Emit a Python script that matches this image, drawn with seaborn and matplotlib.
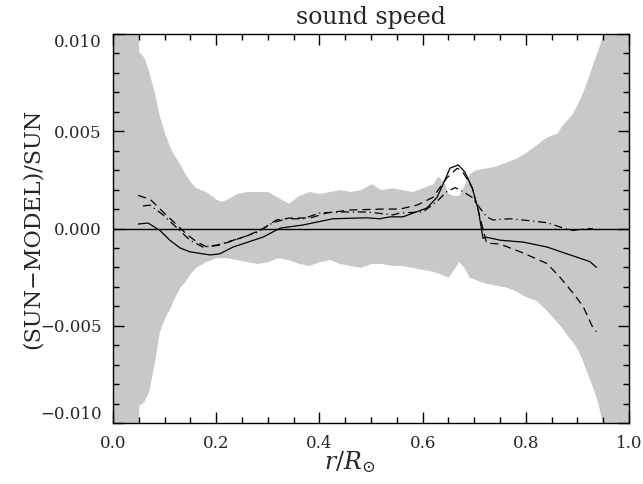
import numpy as np
import pandas as pd
import matplotlib
matplotlib.use("Agg")
import matplotlib.pyplot as plt
import seaborn as sns
from matplotlib.ticker import MultipleLocator

# ---- data ----
band_r = [0.0, 0.047, 0.05, 0.06, 0.07, 0.08, 0.09, 0.10, 0.11, 0.12, 0.13, 0.14, 0.15, 0.16,
          0.18, 0.20, 0.21, 0.22, 0.24, 0.26, 0.28, 0.30, 0.32, 0.34, 0.36, 0.38, 0.40, 0.42,
          0.44, 0.46, 0.48, 0.50, 0.52, 0.54, 0.56, 0.58, 0.60, 0.62, 0.63, 0.64, 0.65, 0.66,
          0.67, 0.68, 0.69, 0.70, 0.72, 0.74, 0.76, 0.78, 0.80, 0.82, 0.84, 0.86, 0.87, 0.88,
          0.89, 0.90, 0.91, 0.92, 0.93, 0.94, 0.95, 0.96, 0.97, 1.0]
band_upper = [0.012, 0.012, 0.0091, 0.0088, 0.0080, 0.0070, 0.0058, 0.0049, 0.0042, 0.0037,
              0.0033, 0.0028, 0.0024, 0.0021, 0.0019, 0.0015, 0.0014, 0.0015, 0.0018, 0.0019,
              0.0019, 0.0019, 0.0016, 0.0013, 0.0017, 0.0019, 0.0018, 0.0019, 0.0020, 0.0019,
              0.0020, 0.0023, 0.0020, 0.0021, 0.0020, 0.0019, 0.0021, 0.0023, 0.0027, 0.0024,
              0.0018, 0.0017, 0.0017, 0.0022, 0.0028, 0.0030, 0.0031, 0.0032, 0.0034, 0.0036,
              0.0039, 0.0043, 0.0047, 0.0049, 0.0053, 0.0056, 0.0059, 0.0064, 0.0070, 0.0077,
              0.0085, 0.0092, 0.0100, 0.0110, 0.0120, 0.0120]
band_lower = [-0.012, -0.012, -0.0091, -0.0089, -0.0083, -0.0069, -0.0053, -0.0046, -0.0041,
              -0.0035, -0.0030, -0.0027, -0.0023, -0.0020, -0.0017, -0.0015, -0.0015, -0.0015,
              -0.0016, -0.0017, -0.0018, -0.0017, -0.0015, -0.0016, -0.0018, -0.0019, -0.0017,
              -0.0016, -0.0018, -0.0019, -0.0020, -0.0018, -0.0018, -0.0019, -0.0019, -0.0020,
              -0.0021, -0.0022, -0.0023, -0.0024, -0.0025, -0.0021, -0.0017, -0.0020, -0.0025,
              -0.0026, -0.0028, -0.0029, -0.0030, -0.0032, -0.0035, -0.0037, -0.0042, -0.0048,
              -0.0051, -0.0055, -0.0058, -0.0062, -0.0068, -0.0075, -0.0082, -0.0090, -0.0102,
              -0.0120, -0.0120, -0.0120]

solid_r = [0.049, 0.068, 0.091, 0.110, 0.130, 0.149, 0.188, 0.207, 0.233, 0.291, 0.324, 0.368,
           0.426, 0.492, 0.517, 0.537, 0.562, 0.608, 0.628, 0.640, 0.653, 0.669, 0.682, 0.696,
           0.708, 0.717, 0.724, 0.750, 0.795, 0.841, 0.886, 0.924, 0.937]
solid_v = [0.00023, 0.00028, -0.0001, -0.0006, -0.0010, -0.0012, -0.00136, -0.0013, -0.00095,
           -0.00044, 0.00002, 0.00018, 0.0005, 0.00055, 0.0005, 0.0006, 0.0006, 0.00105, 0.0016,
           0.0023, 0.0031, 0.00327, 0.0029, 0.0021, 0.00095, -0.0005, -0.00045, -0.0006, -0.0007,
           -0.00095, -0.00136, -0.0017, -0.0020]

dashed_r = [0.049, 0.072, 0.097, 0.124, 0.143, 0.163, 0.182, 0.207, 0.246, 0.285, 0.317, 0.343,
            0.382, 0.414, 0.459, 0.523, 0.556, 0.589, 0.620, 0.647, 0.667, 0.678, 0.696, 0.711,
            0.724, 0.750, 0.795, 0.841, 0.866, 0.891, 0.911, 0.930, 0.937]
dashed_v = [0.0017, 0.0015, 0.00085, 0.00018, -0.0003, -0.0007, -0.00095, -0.00085, -0.0005,
            -0.0001, 0.00044, 0.00054, 0.00054, 0.0008, 0.00095, 0.001, 0.001, 0.0012, 0.0016,
            0.0026, 0.0031, 0.0029, 0.0021, 0.0006, -0.00075, -0.0008, -0.00126, -0.0018,
            -0.0025, -0.0033, -0.0040, -0.0051, -0.0053]

dashdot_r = [0.058, 0.072, 0.097, 0.124, 0.149, 0.174, 0.202, 0.246, 0.279, 0.310, 0.337, 0.368,
             0.401, 0.440, 0.492, 0.543, 0.556, 0.601, 0.628, 0.647, 0.663, 0.678, 0.696, 0.711,
             0.724, 0.736, 0.769, 0.808, 0.841, 0.872, 0.891, 0.911, 0.930]
dashdot_v = [0.00116, 0.0012, 0.0007, 0.00003, -0.0006, -0.00095, -0.00085, -0.0005, -0.0002,
             0.0003, 0.0005, 0.0005, 0.0008, 0.00085, 0.00085, 0.0007, 0.0008, 0.00085, 0.0014,
             0.0019, 0.0021, 0.0019, 0.0016, 0.00105, 0.0006, 0.00044, 0.0005, 0.0004, 0.0003,
             0.00003, -0.0001, -0.00003, 0.0]

x_ticks = [0.0, 0.2, 0.4, 0.6, 0.8, 1.0]
y_ticks = [-0.010, -0.005, 0.000, 0.005, 0.010]
title = "sound speed"
xlabel = r"$r/R_{\odot}$"
ylabel = "(SUN\u2212MODEL)/SUN"

# ---- style ----
sns.set_style("ticks")
plt.rcParams["font.family"] = ["DejaVu Serif"]
plt.rcParams["mathtext.fontset"] = "dejavuserif"
plt.rcParams["axes.unicode_minus"] = True
plt.rcParams["axes.axisbelow"] = False

fig = plt.figure(figsize=(6.43, 4.84), dpi=100)
ax = fig.add_axes([113 / 643, 1 - 423 / 484, 516 / 643, 389 / 484])
ax.set_axisbelow(False)

ax.fill_between(band_r, band_lower, band_upper, color="#c8c8c8", linewidth=0, zorder=1)
ax.axhline(0.0, color="black", linewidth=1.0, zorder=2)

df_s = pd.DataFrame({"r": solid_r, "v": solid_v})
df_d = pd.DataFrame({"r": dashed_r, "v": dashed_v})
df_dd = pd.DataFrame({"r": dashdot_r, "v": dashdot_v})
sns.lineplot(data=df_s, x="r", y="v", ax=ax, color="black", linewidth=0.9,
             sort=False, estimator=None, zorder=3)
sns.lineplot(data=df_d, x="r", y="v", ax=ax, color="black", linewidth=0.9,
             sort=False, estimator=None, zorder=3, linestyle=(0, (6.5, 4)))
sns.lineplot(data=df_dd, x="r", y="v", ax=ax, color="black", linewidth=0.9,
             sort=False, estimator=None, zorder=3, linestyle=(0, (6.5, 3, 1, 3)))

ax.set_xlim(0.0, 1.0)
ax.set_ylim(-0.010, 0.010)
ax.set_xticks(x_ticks)
ax.set_xticklabels([f"{t:.1f}" for t in x_ticks])
ax.set_yticks(y_ticks)
ax.set_yticklabels([f"{t:.3f}".replace("-", "\u2212") for t in y_ticks])
ax.xaxis.set_minor_locator(MultipleLocator(0.05))
ax.yaxis.set_minor_locator(MultipleLocator(0.001))

ax.tick_params(which="both", direction="in", bottom=True, left=True, top=True, right=True,
               color="black", labelsize=12, width=1.0)
ax.tick_params(which="major", length=8)
ax.tick_params(which="minor", length=4.5)
ax.tick_params(axis="x", which="major", pad=9)
ax.tick_params(axis="y", which="major", pad=8)
ylabs = ax.get_yticklabels()
ylabs[0].set_verticalalignment("bottom")
ylabs[-1].set_verticalalignment("top")
for sp in ax.spines.values():
    sp.set_visible(True)
    sp.set_color("black")
    sp.set_linewidth(1.0)
    sp.set_zorder(5)
ax.xaxis.set_zorder(4)
ax.yaxis.set_zorder(4)

ax.set_title(title, fontsize=17, pad=7)
ax.set_xlabel(xlabel, fontsize=17)
ax.xaxis.set_label_coords((349.5 - 113) / 516, -0.068)
ax.set_ylabel(ylabel, fontsize=16)
ax.yaxis.set_label_coords((44 - 113) / 516, 0.5)

fig.savefig("out.png", dpi=100, facecolor="white")
